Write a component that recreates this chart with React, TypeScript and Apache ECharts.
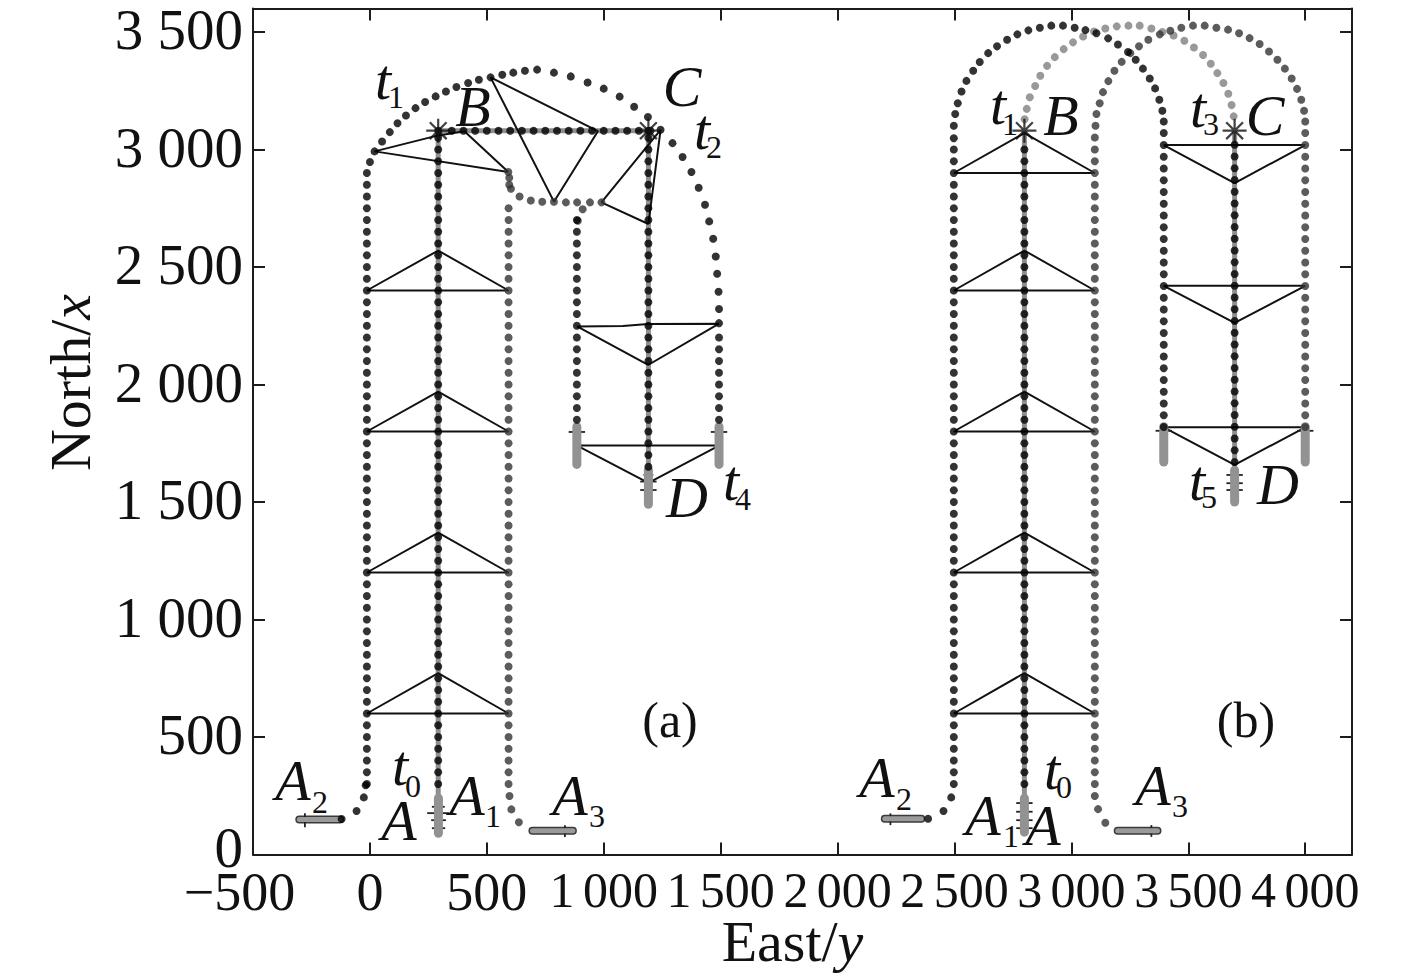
import React, { useEffect, useRef } from "react";
import * as echarts from "echarts";

type Pt = number[];

const xTicks: Record<string, string> = {
  "-500": "\u2212500\u2002", "0": "0", "500": "500", "1000": "{w|1\u2006000}", "1500": "{w|1\u2006500}",
  "2000": "{w|2\u2006000}", "2500": "{w|2\u2006500}", "3000": "{w|3\u2006000}", "3500": "{w|3\u2006500}", "4000": "{w|4\u2006000}",
};
const yTicks: Record<string, string> = {
  "0": "{z|0}", "500": "500", "1000": "1 000", "1500": "1 500", "2000": "2 000",
  "2500": "2 500", "3000": "3 000", "3500": "3 500",
};

const tallNorths = [3000,2950,2900,2850,2800,2750,2700,2650,2600,2550,2500,2450,2400,2350,2300,2250,2200,2150,2100,2050,2000,1950,1900,1850,1800,1750,1700,1650,1600,1550,1500,1450,1400,1350,1300,1250,1200,1150,1100,1050,1000,950,900,850,800,750,700,650,600,550,500,450,400,350,300];
const sideNorthsB = [2969,2919,2869,2819,2769,2719,2669,2619,2569,2519,2469,2419,2369,2319,2269,2219,2169,2119,2069,2019,1969,1919,1869,1819];
const midNorthsB = [3020,2970,2920,2870,2820,2770,2720,2670,2620,2570,2520,2470,2420,2370,2320,2270,2220,2170,2120,2070,2020,1970,1920,1870,1820,1770,1720,1670];
const bcEasts = [350,400,450,500,550,600,650,700,750,800,850,900,950,1000,1050,1100,1150,1200];

const col = (east: number, norths: number[]): Pt[] => norths.map((n) => [east, n]);

// Panel (a) flight paths
const aLeftFoot: Pt[] = [[-121,151],[-57,185],[-26,243],[-18,295]];
const aLeftArc: Pt[] = [[0,2947],[20,2992],[52,3034],[85,3074],[118,3112],[154,3145],[195,3176],[236,3202],[281,3226],[325,3247],[370,3266],[420,3283],[466,3297],[516,3307],[566,3318],[613,3327],[663,3335],[715,3340],[787,3327],[859,3311],[931,3285],[1000,3259],[1068,3225],[1130,3182],[1189,3138],[1243,3084],[1294,3027],[1337,2968],[1375,2904],[1406,2837],[1433,2765],[1451,2694],[1468,2620],[1479,2545],[1485,2471],[1491,2395],[1493,2321],[1493,2261]];
const aRightFoot: Pt[] = [[597,249],[605,192],[637,137]];
const aRightBend: Pt[] = [[592,2904],[596,2880],[596,2850],[603,2833],[640,2800],[688,2783],[737,2778],[787,2778],[838,2775],[886,2775],[941,2775],[990,2775],[910,2746],[889,2697]];
const aCenterTop: Pt[] = [[292,3080],[292,3050],[1191,3080],[1191,3050]];

// Panel (b) flight paths
const bLeftFoot: Pt[] = [[2387,152],[2453,185],[2486,243]];
const bRightFoot: Pt[] = [[3100,249],[3114,193],[3145,135]];
const bBlackArc: Pt[] = [[2497,3048],[2497,3101],[2503,3151],[2514,3197],[2530,3247],[2551,3292],[2580,3335],[2608,3372],[2644,3410],[2682,3439],[2725,3467],[2769,3490],[2816,3507],[2865,3518],[2914,3527],[2964,3527],[3014,3518],[3060,3508],[3107,3495],[3157,3473],[3199,3447],[3242,3415],[3275,3382],[3306,3344],[3335,3302],[3358,3260],[3376,3212],[3389,3165],[3395,3119],[3395,3070],[3395,3019]];
const bGrayArc: Pt[] = [[2800,3129],[2809,3173],[2822,3222],[2845,3270],[2867,3314],[2896,3356],[2929,3393],[2967,3427],[3007,3456],[3050,3481],[3097,3502],[3145,3515],[3194,3524],[3244,3527],[3292,3527],[3342,3515],[3389,3500],[3437,3485],[3483,3463],[3524,3434],[3563,3402],[3596,3365],[3624,3325],[3650,3283],[3671,3237],[3685,3189],[3694,3141]];
const bDarkArc: Pt[] = [[3100,3051],[3103,3101],[3107,3151],[3121,3197],[3135,3244],[3158,3291],[3184,3335],[3215,3373],[3252,3410],[3289,3439],[3329,3467],[3378,3490],[3423,3505],[3470,3518],[3520,3527],[3570,3527],[3620,3518],[3670,3510],[3717,3495],[3762,3474],[3805,3449],[3845,3417],[3881,3382],[3913,3344],[3942,3302],[3965,3258],[3983,3212],[3995,3165],[4000,3119],[4000,3070],[4000,3019]];

const blackDots: Pt[] = [
  ...aLeftFoot, ...col(-13, tallNorths.slice(2)), ...aLeftArc,
  ...col(292, tallNorths), ...bcEasts.map((e) => [e, 3080]), ...aCenterTop,
  ...col(1191, tallNorths.slice(0, 28)), ...col(885, tallNorths.slice(6, 24)),
  ...col(1493, tallNorths.slice(16, 24)),
  ...bLeftFoot, ...col(2497, tallNorths), ...bBlackArc, ...col(2799, tallNorths),
  ...col(3395, sideNorthsB), ...col(3698, midNorthsB),
];
const darkDots: Pt[] = [
  ...aRightFoot, ...col(593, tallNorths.slice(5)), ...aRightBend,
  ...bRightFoot, ...col(3100, tallNorths), ...bDarkArc, ...col(4000, sideNorthsB),
];
const grayDots: Pt[] = bGrayArc;

// Formation triangles
const formations: Pt[][] = [
  [[-13,600],[292,772],[593,600],[-13,600]],
  [[-13,1200],[292,1370],[593,1200],[-13,1200]],
  [[-13,1800],[292,1970],[593,1800],[-13,1800]],
  [[-13,2400],[292,2570],[593,2400],[-13,2400]],
  [[592,2904],[404,3078],[292,3060],[20,2992],[592,2904]],
  [[516,3307],[975,3078],[787,2778],[516,3307]],
  [[990,2775],[1243,3084],[1191,2683],[990,2775]],
  [[886,2247],[1082,2249],[1190,2257],[1493,2259],[1190,2083],[886,2247]],
  [[886,1740],[1493,1740],[1191,1581],[886,1740]],
  [[2497,600],[2799,772],[3100,600],[2497,600]],
  [[2497,1200],[2799,1370],[3100,1200],[2497,1200]],
  [[2497,1800],[2799,1970],[3100,1800],[2497,1800]],
  [[2497,2400],[2799,2570],[3100,2400],[2497,2400]],
  [[2497,2900],[2799,3070],[3100,2900],[2497,2900]],
  [[3395,3019],[4000,3019],[3698,2857],[3395,3019]],
  [[3395,2420],[4000,2420],[3698,2262],[3395,2420]],
  [[3395,1818],[4000,1818],[3698,1658],[3395,1818]],
];

// Gray centre tracks and aircraft bars
const grayTracks: Pt[][] = [
  [[292,240],[292,3080],[1191,3080],[1191,1650]],
  [[2799,240],[2799,3080]],
  [[3698,3080],[3698,1650]],
];
const uprightBars: Pt[][] = [
  [[293,240],[293,90]],
  [[885,1820],[885,1660]],
  [[1493,1820],[1493,1660]],
  [[1191,1635],[1191,1490]],
  [[2799,240],[2799,95]],
  [[3395,1820],[3395,1670]],
  [[4000,1820],[4000,1670]],
  [[3698,1635],[3698,1500]],
];
const levelBars: Pt[][] = [
  [[-302,149],[-128,149]],
  [[695,101],[868,101]],
  [[2202,152],[2358,152]],
  [[3198,101],[3368,101]],
];
const spurs: Pt[][] = [
  [[245,176],[340,176]],[[265,203],[320,203]],[[262,146],[325,146]],[[265,112],[322,112]],
  [[-278,176],[-278,116]],[[834,125],[834,75]],
  [[850,1798],[920,1798]],[[1458,1798],[1528,1798]],
  [[1156,1587],[1226,1587]],[[1156,1551],[1226,1551]],[[1170,1615],[1212,1615]],
  [[2764,219],[2834,219]],[[2764,182],[2834,182]],[[2764,146],[2834,146]],[[2764,112],[2834,112]],
  [[2226,175],[2226,125]],[[3342,125],[3342,75]],
  [[3360,1803],[3430,1803]],[[3965,1803],[4035,1803]],
  [[3663,1615],[3733,1615]],[[3663,1580],[3733,1580]],[[3663,1551],[3733,1551]],
];
const stars: Pt[] = [[292,3080],[1191,3080],[2799,3080],[3698,3080]];

// Annotations: [text, centre px x, centre px y]
const italicNotes: [string, number, number][] = [
  ["t",383,79],["B",473,106],["C",682,86],["t",702,129],["D",687,497],["t",731,480],
  ["t",400,765],["A",399,820],["A",467,795],["A",293,780],["A",570,795],
  ["t",998,104],["B",1061,115],["t",1198,107],["C",1265,115],["t",1197,480],["D",1278,484],
  ["A",877,777],["A",983,815],["A",1043,825],["t",1052,769],["A",1153,785],
];
const subNotes: [string, number, number][] = [
  ["1",396,97],["2",714,147],["4",743,499],["0",413,786],["1",493,816],["2",320,802],["3",597,816],
  ["1",1010,124],["3",1211,124],["5",1209,497],["2",904,799],["1",1011,836],["0",1064,787],["3",1180,806],
];
const panelNotes: [string, number, number][] = [["(a)",670,720],["(b)",1246,720]];

const SERIF = "Liberation Serif";
const INK = "#111111";

const lineSeries = (data: Pt[], color: string, width: number, z: number, cap = "butt") => ({
  type: "line", data, silent: true, symbol: "none", z, clip: false,
  lineStyle: { color, width, cap },
});
const dotSeries = (data: Pt[], color: string) => ({
  type: "scatter", data, silent: true, symbol: "circle", symbolSize: 8, z: 5,
  itemStyle: { color },
});

export default function App() {
  const ref = useRef<HTMLDivElement>(null);
  useEffect(() => {
    const chart = echarts.init(ref.current!, null, { renderer: "svg" });
    const text = (t: string, x: number, y: number, size: number, italic: boolean) => ({
      type: "text", x, y, z: 20,
      style: {
        text: t, fill: INK, fontFamily: SERIF, fontSize: size,
        fontStyle: italic ? "italic" : "normal", textAlign: "center", textVerticalAlign: "middle",
      },
    });
    const line = { lineStyle: { color: "#1c1c1c", width: 2 } };
    const titleRich = {
      a: { fontFamily: SERIF, fontSize: 58, color: INK },
      b: { fontFamily: SERIF, fontSize: 58, color: INK, fontStyle: "italic" },
    };
    chart.setOption({
      animation: false,
      backgroundColor: "#fff",
      grid: { left: 253, top: 8.5, width: 1099, height: 846, outerBoundsMode: "none" },
      xAxis: [
        {
          type: "value", min: -500, max: 4200, interval: 500, position: "bottom",
          axisLine: { show: true, onZero: false, ...line }, splitLine: { show: false },
          axisTick: { show: true, inside: true, length: 12, ...line },
          axisLabel: {
            margin: 10, fontFamily: SERIF, fontSize: 54, color: INK, hideOverlap: false,
            formatter: (v: number) => xTicks[String(v)] ?? "",
            rich: { w: { fontFamily: SERIF, fontSize: 50, color: INK, padding: [0, 0, 0, 0] } },
          },
          name: "{a|East/}{b|y}", nameLocation: "middle", nameGap: 58, nameMoveOverlap: false,
          nameTextStyle: { padding: [0, 20, 0, 0], rich: titleRich },
        },
        {
          type: "value", min: -500, max: 4200, interval: 500, position: "top",
          axisLine: { show: true, onZero: false, ...line }, splitLine: { show: false },
          axisTick: { show: true, inside: true, length: 12, ...line }, axisLabel: { show: false },
        },
      ],
      yAxis: [
        {
          type: "value", min: 0, max: 3600, interval: 500, position: "left",
          axisLine: { show: true, onZero: false, ...line }, splitLine: { show: false },
          axisTick: { show: true, inside: true, length: 12, ...line },
          axisLabel: {
            margin: 10, fontFamily: SERIF, fontSize: 57, color: INK, padding: [0, 0, 5, 0],
            formatter: (v: number) => yTicks[String(v)] ?? "",
            rich: { z: { fontFamily: SERIF, fontSize: 57, color: INK, padding: [0, 0, 10, 0] } },
          },
          name: "{a|North/}{b|x}", nameLocation: "middle", nameGap: 154, nameRotate: 90,
          nameTextStyle: { padding: [0, 0, 0, 98], rich: titleRich },
        },
        {
          type: "value", min: 0, max: 3600, interval: 500, position: "right",
          axisLine: { show: true, onZero: false, ...line }, splitLine: { show: false },
          axisTick: { show: true, inside: true, length: 12, ...line }, axisLabel: { show: false },
        },
      ],
      series: [
        ...grayTracks.map((d) => lineSeries(d, "#8f8f8f", 5, 1)),
        ...formations.map((d) => lineSeries(d, "#111111", 2, 3)),
        ...levelBars.map((d) => lineSeries(d, "#3a3a3a", 8, 3, "round")),
        ...levelBars.map((d) => lineSeries(d, "#9a9a9a", 5, 4, "round")),
        ...uprightBars.map((d) => lineSeries(d, "#929292", 9, 4, "round")),
        ...spurs.map((d) => lineSeries(d, "#222222", 1.8, 3)),
        dotSeries(grayDots, "#808080"),
        dotSeries(darkDots, "#333333"),
        dotSeries(blackDots, "#000000"),
        {
          type: "scatter", data: stars, silent: true, z: 6, symbolSize: 24,
          symbol: "path://M10 0L10 20M0 10L20 10M3 3L17 17M3 17L17 3",
          itemStyle: { color: "none", borderColor: "#111111", borderWidth: 2.2 },
        },
      ],
      graphic: [
        ...italicNotes.map(([t, x, y]) => text(t, x, y, 58, true)),
        ...subNotes.map(([t, x, y]) => text(t, x, y, 32, false)),
        ...panelNotes.map(([t, x, y]) => text(t, x, y, 50, false)),
      ],
    });
    return () => chart.dispose();
  }, []);
  return (
    <div ref={ref} style={{ position: "absolute", left: 0, top: 0, width: 1417, height: 978, background: "#fff" }} />
  );
}
